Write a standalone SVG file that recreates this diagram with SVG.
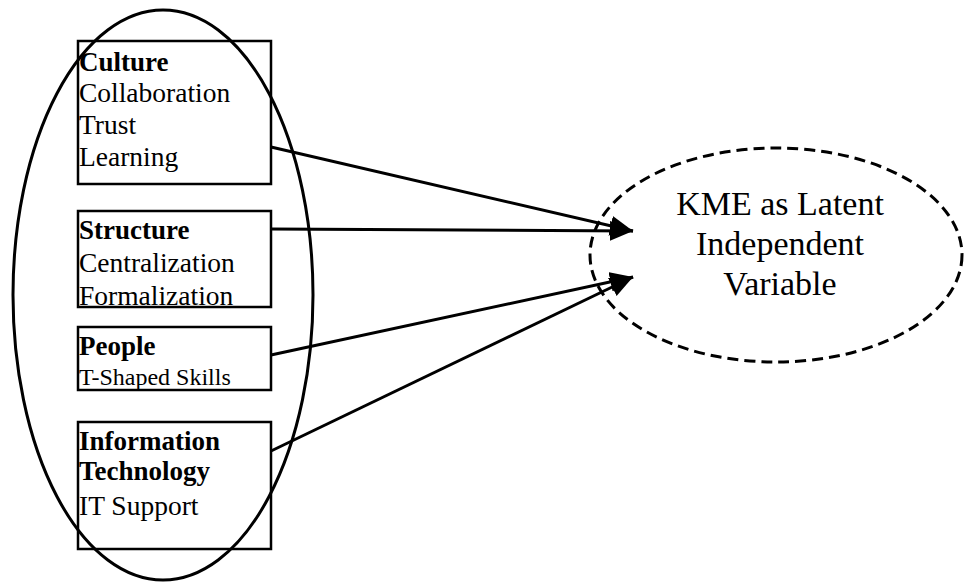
<svg xmlns="http://www.w3.org/2000/svg" width="965" height="582" viewBox="0 0 965 582">
<style>
.t{font-family:"Liberation Serif","Times New Roman",serif;fill:#000}
.b{font-weight:bold}
.box{fill:none;stroke:#000;stroke-width:2.5}
.conn{stroke:#000;stroke-width:3;fill:none}
</style>
<defs>
<marker id="ah" markerUnits="userSpaceOnUse" markerWidth="26" markerHeight="24" refX="23" refY="10" orient="auto">
<path d="M0,0 L23,10 L0,20 Z" fill="#000"/>
</marker>
</defs>
<rect width="965" height="582" fill="#fff"/>
<g id="group-ellipse">
<ellipse cx="163" cy="295" rx="150" ry="285" fill="none" stroke="#000" stroke-width="3"/>
</g>
<g id="culture">
<rect class="box" x="78" y="41" width="193" height="143"/>
<text class="t b" x="79" y="71" font-size="27">Culture</text>
<text class="t" x="79" y="102" font-size="27.5">Collaboration</text>
<text class="t" x="79" y="134" font-size="27.5">Trust</text>
<text class="t" x="79" y="166" font-size="27.5">Learning</text>
</g>
<g id="structure">
<rect class="box" x="78" y="211" width="193" height="96"/>
<text class="t b" x="79" y="239" font-size="27">Structure</text>
<text class="t" x="79" y="272" font-size="27.5">Centralization</text>
<text class="t" x="79" y="305" font-size="27.5">Formalization</text>
</g>
<g id="people">
<rect class="box" x="78" y="327" width="193" height="63"/>
<text class="t b" x="79" y="355" font-size="27">People</text>
<text class="t" x="79" y="385" font-size="24">T-Shaped Skills</text>
</g>
<g id="it">
<rect class="box" x="78" y="422" width="193" height="127"/>
<text class="t b" x="79" y="450" font-size="27">Information</text>
<text class="t b" x="79" y="480" font-size="27">Technology</text>
<text class="t" x="79" y="515" font-size="27.5">IT Support</text>
</g>
<g id="kme">
<ellipse cx="776" cy="255" rx="186" ry="107" fill="none" stroke="#000" stroke-width="3" stroke-dasharray="11,6"/>
<text class="t" x="780" y="215" font-size="34" text-anchor="middle">KME as Latent</text>
<text class="t" x="780" y="255" font-size="34" text-anchor="middle">Independent</text>
<text class="t" x="780" y="295" font-size="34" text-anchor="middle">Variable</text>
</g>
<g id="connectors">
<line class="conn" x1="271" y1="147" x2="633" y2="231" marker-end="url(#ah)"/>
<line class="conn" x1="271" y1="229" x2="633" y2="231" marker-end="url(#ah)"/>
<line class="conn" x1="271" y1="355" x2="633" y2="277" marker-end="url(#ah)"/>
<line class="conn" x1="271" y1="451" x2="633" y2="277" marker-end="url(#ah)"/>
</g>
</svg>
